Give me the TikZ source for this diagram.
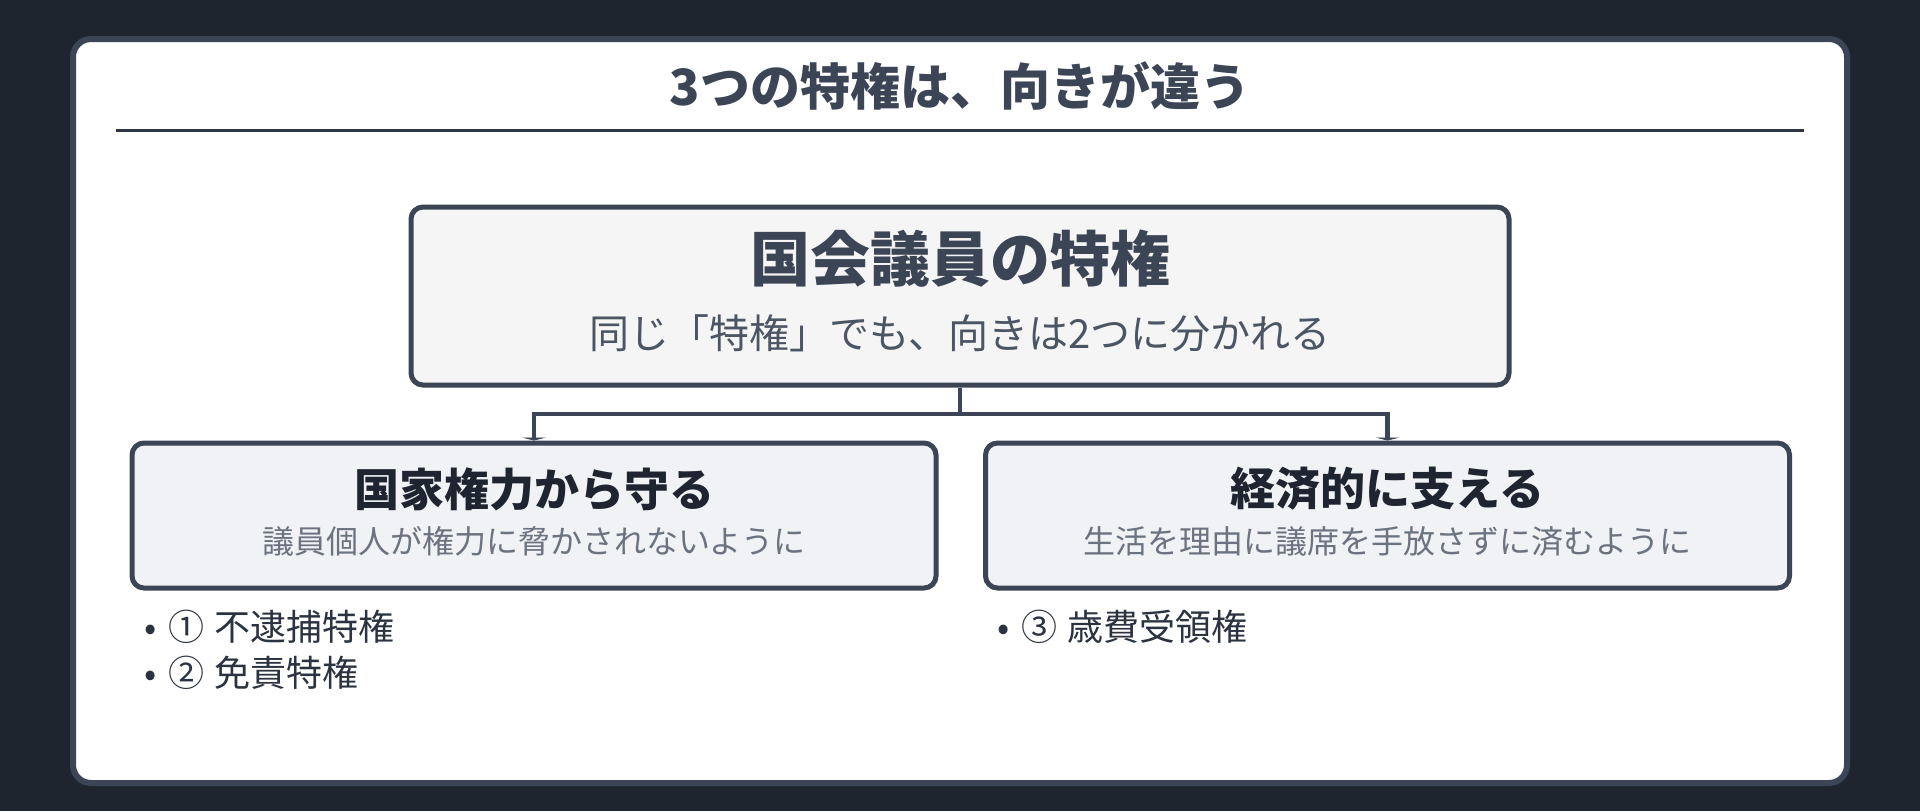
\documentclass[tikz,border=0pt]{standalone}
\usepackage{fontspec}
\setmainfont{Noto Sans CJK JP}
\usepackage{tikz}
\usetikzlibrary{arrows.meta, positioning}
\definecolor{bgdark}{HTML}{1E252F}
\definecolor{slate}{HTML}{3B4556}
\definecolor{rulecol}{HTML}{2E3642}
\definecolor{fillmain}{HTML}{F5F5F5}
\definecolor{fillside}{HTML}{F0F2F5}
\definecolor{inkdark}{HTML}{1F2530}
\definecolor{notemain}{HTML}{4B5563}
\definecolor{noteside}{HTML}{6B7280}
\definecolor{itemink}{HTML}{2B3340}
\newcommand{\itemmark}[1]{•\hspace{6pt}#1\hspace{5pt}}
\tikzset{
	every node/.style={
		font=\fontsize{18pt}{22pt}\selectfont,
		inner sep=0pt
	},
	card/.style={
		draw=slate,
		fill=white,
		line width=3pt,
		rounded corners=9pt
	},
	pagetitle/.style={
		font=\fontsize{25pt}{30pt}\selectfont\bfseries,
		text=slate
	},
	mainbox/.style={
		shape=rectangle,
		draw=slate,
		fill=fillmain,
		line width=2.5pt,
		rounded corners=6pt,
		minimum width=549pt,
		minimum height=89pt
	},
	sidebox/.style={
		shape=rectangle,
		draw=slate,
		fill=fillside,
		line width=2.5pt,
		rounded corners=6pt,
		minimum width=402pt,
		minimum height=72.5pt
	},
	maintitle/.style={
		font=\fontsize{30pt}{36pt}\selectfont\bfseries,
		text=slate
	},
	mainnote/.style={
		font=\fontsize{20pt}{24pt}\selectfont,
		text=notemain
	},
	sidetitle/.style={
		font=\fontsize{22.5pt}{27pt}\selectfont\bfseries,
		text=inkdark
	},
	sidenote/.style={
		font=\fontsize{16pt}{20pt}\selectfont,
		text=noteside
	},
	item/.style={
		anchor=west,
		text=itemink
	},
	branch/.style={
		draw=slate,
		line width=2.25pt
	}
}

\begin{document}
\begin{tikzpicture}[x=0.5pt,y=-0.5pt]
	
	\fill[bgdark] (0,0) rectangle (1920,811);
	\useasboundingbox (0,0) rectangle (1920,811);
	\draw[card] (73,39) rectangle (1847,783);
	
	\node[pagetitle] (title) at (960,86) {3つの特権は、向きが違う};
	\draw[rulecol,line width=1.5pt] (116,130) -- (1804,130);
	
	% top box
	\node[mainbox] (privilege) at (960,296) {};
	\node[maintitle] (privtitle) at (960,259) {国会議員の特権};
	\node[mainnote] (privnote) at (960,333) {同じ「特権」でも、向きは2つに分かれる};
	
	% two directions
	\node[sidebox] (protect) at (534,515.5) {};
	\node[sidetitle] (protecttitle) at (534,489) {国家権力から守る};
	\node[sidenote] (protectnote) at (534,541) {議員個人が権力に脅かされないように};
	
	\node[sidebox] (support) at (1387.5,515.5) {};
	\node[sidetitle] (supporttitle) at (1387.5,489) {経済的に支える};
	\node[sidenote] (supportnote) at (1387.5,541) {生活を理由に議席を手放さずに済むように};
	
	\coordinate (fork) at (960,414);
	\draw[branch] (privilege.south) -- (fork);
	\draw[branch,-{Triangle[width=12pt,length=1.5pt]}] (fork) -| (protect.north);
	\draw[branch,-{Triangle[width=12pt,length=1.5pt]}] (fork) -| (support.north);
	
	% lists
	\node[item] (item1) at (144,627) {\itemmark{①}不逮捕特権};
	\node[item] (item2) at (144,673) {\itemmark{②}免責特権};
	\node[item] (item3) at (997,627) {\itemmark{③}歳費受領権};
	
\end{tikzpicture}
\end{document}
